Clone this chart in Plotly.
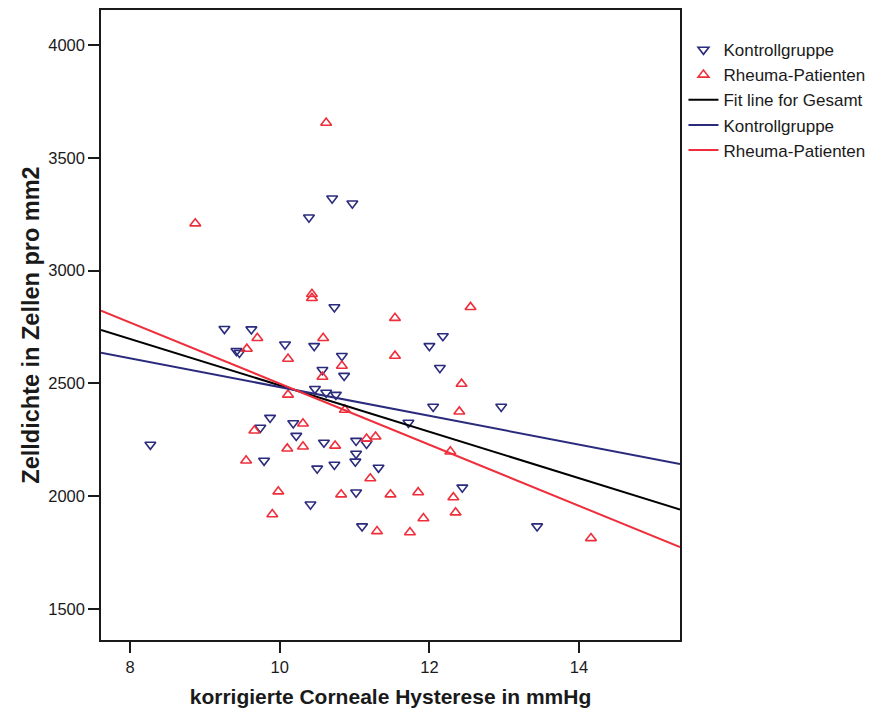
import numpy as np
import plotly.graph_objects as go

# Kontrollgruppe (x: korrigierte Corneale Hysterese, y: Zelldichte)
kontroll_x = [8.27, 9.26, 9.62, 9.42, 9.46, 10.07, 9.87, 9.74, 10.18, 10.22, 9.79,
              10.73, 10.46, 12.18, 12.00, 10.83, 12.14, 10.57, 10.86, 10.47, 10.62,
              10.75, 12.05, 11.72, 10.59, 11.02, 11.16, 11.02, 11.01, 10.73, 10.50,
              11.32, 11.02, 12.44, 10.41, 11.10, 12.96, 13.44, 10.70, 10.97, 10.39]
kontroll_y = [2229, 2742, 2740, 2644, 2636, 2673, 2348, 2304, 2324, 2268, 2158,
              2838, 2666, 2710, 2666, 2622, 2569, 2560, 2534, 2476, 2459,
              2450, 2397, 2326, 2238, 2246, 2233, 2189, 2154, 2140, 2123,
              2127, 2017, 2039, 1964, 1867, 2397, 1867, 3320, 3298, 3236]

# Rheuma-Patienten
rheuma_x = [9.70, 9.56, 10.11, 10.11, 9.66, 10.10, 9.55, 9.98, 9.90, 10.43, 10.43,
            11.54, 12.55, 10.58, 11.54, 10.83, 10.57, 12.43, 10.87, 12.40, 10.31,
            10.31, 10.74, 11.16, 11.28, 12.28, 11.21, 10.82, 11.48, 11.85, 12.32,
            12.35, 11.92, 11.30, 11.74, 14.16, 10.62, 8.87]
rheuma_y = [2701, 2653, 2609, 2450, 2291, 2211, 2158, 2021, 1920, 2896, 2878,
            2790, 2838, 2701, 2622, 2578, 2529, 2498, 2383, 2375, 2322,
            2220, 2224, 2255, 2264, 2198, 2079, 2008, 2008, 2017, 1995,
            1928, 1902, 1845, 1840, 1814, 3655, 3209]

x_range = [7.61, 15.35]
y_range = [1363, 4155]
x_ticks = [8, 10, 12, 14]
y_ticks = [1500, 2000, 2500, 3000, 3500, 4000]

NAVY = "#2b2b7d"
RED = "#ee2f3b"

def fit(xs, ys):
    b, a = np.polyfit(np.array(xs), np.array(ys), 1)
    xx = np.array(x_range)
    return xx, a + b * xx

fig = go.Figure()
fig.add_trace(go.Scatter(x=kontroll_x, y=kontroll_y, mode="markers", name="Kontrollgruppe",
                         marker=dict(symbol="triangle-down-open", size=9.5, color=NAVY,
                                     line=dict(width=1.6, color=NAVY))))
fig.add_trace(go.Scatter(x=rheuma_x, y=rheuma_y, mode="markers", name="Rheuma-Patienten",
                         marker=dict(symbol="triangle-up-open", size=9.5, color=RED,
                                     line=dict(width=1.6, color=RED))))

gx, gy = fit(kontroll_x + rheuma_x, kontroll_y + rheuma_y)
fig.add_trace(go.Scatter(x=gx, y=gy, mode="lines", name="Fit line for Gesamt",
                         line=dict(color="black", width=2)))
kx, ky = fit(kontroll_x, kontroll_y)
fig.add_trace(go.Scatter(x=kx, y=ky, mode="lines", name="Kontrollgruppe",
                         line=dict(color=NAVY, width=2)))
rx, ry = fit(rheuma_x, rheuma_y)
fig.add_trace(go.Scatter(x=rx, y=ry, mode="lines", name="Rheuma-Patienten",
                         line=dict(color=RED, width=2)))

axis_common = dict(showgrid=False, zeroline=False, showline=True, linecolor="#1a1a1a",
                   linewidth=1.5, mirror=True, ticks="outside", ticklen=11, tickwidth=1.5,
                   tickcolor="#1a1a1a", automargin=False,
                   tickfont=dict(family="Liberation Sans, Arial", size=16.5, color="#1a1a1a"))

fig.update_layout(
    width=874, height=714,
    margin=dict(l=101, r=194, t=10, b=74, autoexpand=False),
    paper_bgcolor="white", plot_bgcolor="white",
    font=dict(family="Liberation Sans, Arial", color="#1a1a1a"),
    xaxis=dict(range=x_range, tickvals=x_ticks, **axis_common,
               title=dict(text="<b>korrigierte Corneale Hysterese in mmHg</b>",
                          font=dict(size=21), standoff=15)),
    yaxis=dict(range=y_range, tickvals=y_ticks, **axis_common,
               title=dict(text="<b>Zelldichte in Zellen pro mm2</b>",
                          font=dict(size=23.5), standoff=2)),
    legend=dict(x=1.006, xanchor="left", y=0.965, yanchor="top", bgcolor="rgba(0,0,0,0)",
                font=dict(size=17), tracegroupgap=0, itemwidth=30),
    showlegend=True,
)

fig.write_html("out.html")
